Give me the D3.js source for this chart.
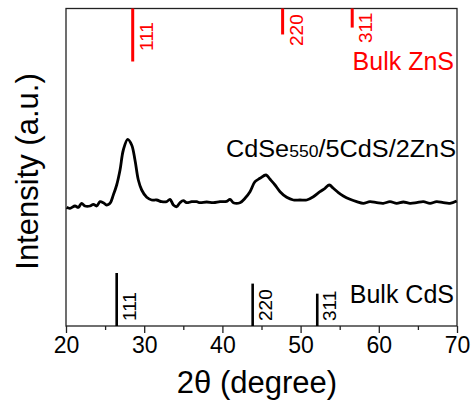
<!DOCTYPE html>
<html>
<head>
<meta charset="utf-8">
<script src="https://cdn.jsdelivr.net/npm/d3@7"></script>
<style>
  body { margin: 0; background: #fff; }
  text { font-family: "Liberation Sans", Arial, sans-serif; }
</style>
</head>
<body>
<svg width="474" height="409"></svg>
<script>
// XRD pattern (2-theta, intensity a.u.)
const twoTheta = [20.09, 20.51, 21.15, 21.58, 22.00, 22.43, 23.07, 23.50, 23.92, 24.35, 24.77, 25.20, 25.63,
  26.05, 26.48, 26.91, 27.33, 27.89, 28.40, 28.82, 29.25, 29.68, 30.32, 30.95, 31.59, 32.23, 32.87, 33.30,
  33.73, 34.15, 34.58, 35.00, 35.43, 36.07, 36.71, 37.14, 37.99, 38.84, 39.69, 40.55, 40.97, 41.40, 42.25,
  42.89, 43.53, 44.17, 44.81, 45.58, 46.09, 46.73, 47.37, 48.22, 49.07, 49.92, 50.78, 51.63, 52.48, 53.12,
  53.67, 54.19, 54.83, 55.46, 56.32, 57.17, 58.02, 58.87, 59.73, 60.58, 61.43, 62.29, 63.14, 63.99, 64.84,
  65.69, 66.55, 67.40, 68.25, 69.10, 69.96];
const intensity = [118.7, 117.7, 120.0, 118.7, 122.7, 120.0, 120.0, 121.7, 120.0, 124.3, 123.3, 121.0, 122.7,
  131.0, 141.0, 156.0, 176.0, 186.7, 181.0, 166.0, 146.0, 136.0, 128.7, 126.0, 126.0, 124.3, 124.3, 126.7,
  121.0, 119.3, 123.3, 125.3, 123.3, 124.3, 124.3, 123.3, 124.0, 123.3, 124.3, 124.7, 126.7, 123.3, 123.3,
  127.7, 134.3, 144.3, 147.7, 151.0, 146.7, 141.0, 134.3, 128.7, 126.0, 126.0, 126.0, 129.3, 134.3, 137.7,
  141.0, 137.7, 133.3, 130.0, 126.7, 124.3, 122.7, 124.3, 123.3, 122.7, 124.3, 122.7, 124.0, 122.7, 123.3,
  124.3, 122.7, 124.3, 123.3, 122.7, 125.0];

// reference sticks
const znsPos = [28.53, 47.7, 56.6];
const znsRel = [100, 49, 36];
const znsHkl = ['111', '220', '311'];
const cdsPos = [26.48, 43.87, 52.13];
const cdsRel = [100, 80, 61];
const cdsHkl = ['111', '220', '311'];

const xTicks = [20, 30, 40, 50, 60, 70];
const xMinor = [25, 35, 45, 55, 65];
const yTicks = [118];

const svg = d3.select('svg');
const m = { left: 66, right: 457, top: 8.5, bottom: 326 };

const x = d3.scaleLinear().domain([20, 70]).range([m.left, m.right]);
const y = d3.scaleLinear().domain([0, 317.5]).range([m.bottom, m.top]);
const stick = d3.scaleLinear().domain([0, 100]).range([0, 53]);

// frame
svg.append('rect')
  .attr('x', m.left).attr('y', m.top)
  .attr('width', m.right - m.left).attr('height', m.bottom - m.top)
  .attr('fill', 'none').attr('stroke', '#222').attr('stroke-width', 1.3);

// bottom axis
const xAxis = svg.append('g').attr('transform', 'translate(0,' + m.bottom + ')')
  .call(d3.axisBottom(x).tickValues(xTicks).tickSize(7).tickPadding(4).tickFormat(d3.format('d')));
xAxis.select('.domain').remove();
xAxis.selectAll('line').attr('stroke', '#222').attr('stroke-width', 1.3);
xAxis.selectAll('text').attr('font-size', 23).attr('fill', '#000')
  .attr('font-family', '"Liberation Sans", Arial, sans-serif');

const xMin = svg.append('g').attr('transform', 'translate(0,' + m.bottom + ')')
  .call(d3.axisBottom(x).tickValues(xMinor).tickSize(4).tickFormat(''));
xMin.select('.domain').remove();
xMin.selectAll('line').attr('stroke', '#222').attr('stroke-width', 1.3);

// left axis: single inward tick
const yAx = svg.append('g').attr('transform', 'translate(' + m.left + ',0)')
  .call(d3.axisRight(y).tickValues(yTicks).tickSize(4).tickFormat(''));
yAx.select('.domain').remove();
yAx.selectAll('line').attr('stroke', '#222').attr('stroke-width', 1.3);

// pattern
const pts = twoTheta.map((t, i) => [t, intensity[i]]);
svg.append('path')
  .datum(pts)
  .attr('fill', 'none')
  .attr('stroke', '#000')
  .attr('stroke-width', 2.8)
  .attr('stroke-linejoin', 'round')
  .attr('d', d3.line().x(d => x(d[0])).y(d => y(d[1])).curve(d3.curveCatmullRom));

// ZnS sticks hang from the top
const red = '#ff0000';
svg.append('g').selectAll('line').data(znsPos).enter().append('line')
  .attr('x1', d => x(d)).attr('x2', d => x(d))
  .attr('y1', m.top).attr('y2', (d, i) => m.top + stick(znsRel[i]))
  .attr('stroke', red).attr('stroke-width', 3);

const znsLabelY = [51, 46, 43];
svg.append('g').selectAll('text').data(znsHkl).enter().append('text')
  .attr('transform', (d, i) => 'translate(' + (x(znsPos[i]) + 20) + ',' + znsLabelY[i] + ') rotate(-90)')
  .attr('font-size', 19).attr('fill', red)
  .text(d => d);

svg.append('text')
  .attr('x', 454).attr('y', 70)
  .attr('text-anchor', 'end').attr('font-size', 25).attr('fill', red)
  .text('Bulk ZnS');

// CdS sticks rise from the bottom
svg.append('g').selectAll('line').data(cdsPos).enter().append('line')
  .attr('x1', d => x(d)).attr('x2', d => x(d))
  .attr('y1', m.bottom).attr('y2', (d, i) => m.bottom - stick(cdsRel[i]))
  .attr('stroke', '#000').attr('stroke-width', 2.6);

svg.append('g').selectAll('text').data(cdsHkl).enter().append('text')
  .attr('transform', (d, i) => 'translate(' + (x(cdsPos[i]) + 19) + ',' + 321 + ') rotate(-90)')
  .attr('font-size', 19).attr('fill', '#000')
  .text(d => d);

svg.append('text')
  .attr('x', 454).attr('y', 303)
  .attr('text-anchor', 'end').attr('font-size', 25).attr('fill', '#000')
  .text('Bulk CdS');

// sample name
const name = svg.append('text')
  .attr('x', 226).attr('y', 157)
  .attr('font-size', 23).attr('fill', '#000')
  .attr('textLength', 230).attr('lengthAdjust', 'spacingAndGlyphs');
name.append('tspan').text('CdSe');
name.append('tspan').attr('font-size', 16).text('550');
name.append('tspan').text('/5CdS/2ZnS');

// axis titles
svg.append('text')
  .attr('x', 257).attr('y', 393)
  .attr('text-anchor', 'middle').attr('font-size', 31)
  .text('2θ (degree)');

svg.append('text')
  .attr('transform', 'translate(38,171.5) rotate(-90)')
  .attr('text-anchor', 'middle').attr('font-size', 31)
  .text('Intensity (a.u.)');
</script>
</body>
</html>
